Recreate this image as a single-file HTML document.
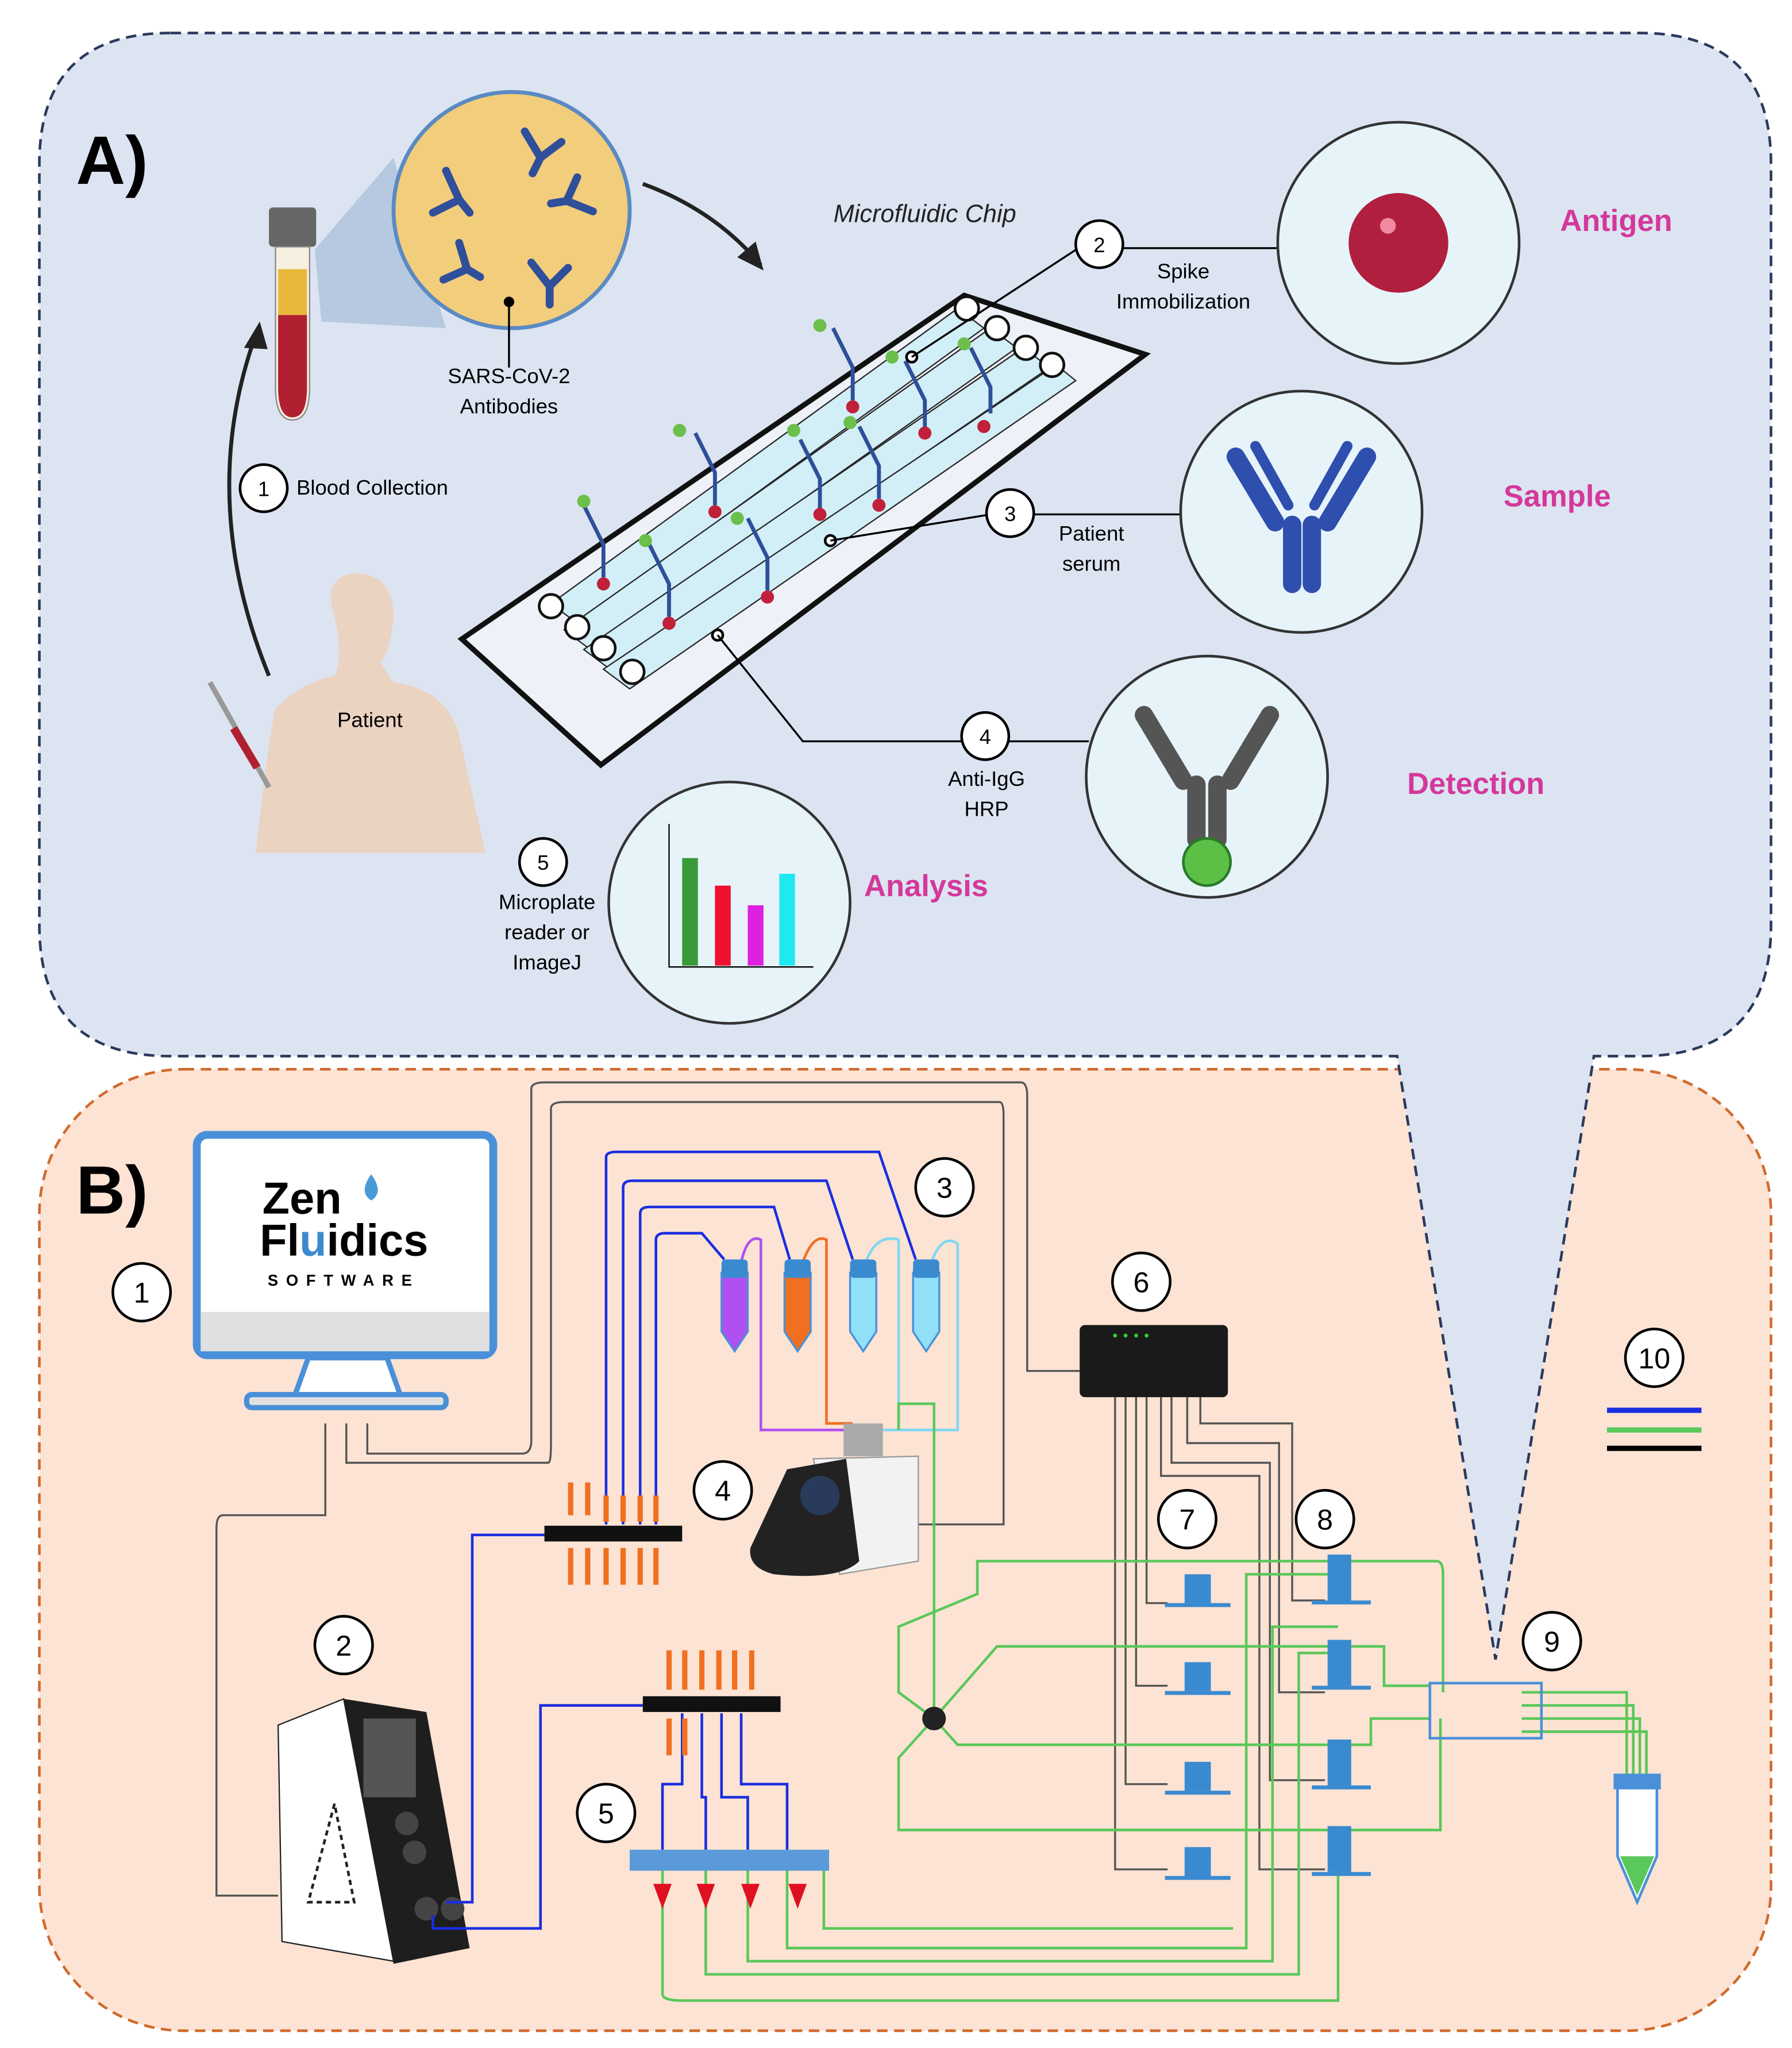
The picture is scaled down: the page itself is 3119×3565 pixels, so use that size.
<!DOCTYPE html>
<html><head><meta charset="utf-8"><style>
html,body{margin:0;padding:0;background:#fff}
svg{display:block}
text{font-family:"Liberation Sans",sans-serif}
</style></head><body>
<svg width="3119" height="3565" viewBox="0 0 1366 1561" xmlns="http://www.w3.org/2000/svg">
<!-- Panel B background -->
<rect x="30" y="815" width="1320" height="733" rx="110" fill="#fde3d4" stroke="#d06a2c" stroke-width="2" stroke-dasharray="8,5"/>
<!-- Panel A with tail -->
<path d="M130,25 H1250 Q1350,25 1350,125 V705 Q1350,805 1250,805 H1215 L1140,1265 L1065,805 H130 Q30,805 30,705 V125 Q30,25 130,25 Z" fill="#dce4f2" stroke="#2b3a5c" stroke-width="2" stroke-dasharray="8,5"/>
<text x="58" y="140" font-size="52" font-weight="bold">A)</text>
<text x="58" y="925" font-size="52" font-weight="bold">B)</text>

<!-- Panel A -->
<!-- blood tube -->
<rect x="205" y="158" width="36" height="30" rx="3" fill="#666"/>
<path d="M210,188 H236 V295 Q236,320 223,320 Q210,320 210,295 Z" fill="#f7f0e0" stroke="#888"/>
<path d="M212,205 H234 V240 H212 Z" fill="#e8b83a"/>
<path d="M212,240 H234 V295 Q234,318 223,318 Q212,318 212,295 Z" fill="#b02030"/>
<polygon points="240,190 300,120 340,250 245,245" fill="#9fb7d4" opacity="0.6"/>
<circle cx="390" cy="160" r="90" fill="#f2cd7c" stroke="#5b8ac2" stroke-width="3"/>
<g stroke="#2f4f9a" stroke-width="6" fill="none" stroke-linecap="round">
<path d="M340,130 l10,22 l-20,10 M350,152 l8,10"/>
<path d="M400,100 l12,20 l16,-12 M412,120 l-6,12"/>
<path d="M440,135 l-8,18 l20,8 M432,153 l-12,2"/>
<path d="M350,185 l6,20 l-18,8 M356,205 l10,6"/>
<path d="M405,200 l14,18 l14,-14 M419,218 l0,14"/>
</g>
<circle cx="388" cy="230" r="4" fill="#000"/>
<line x1="388" y1="230" x2="388" y2="280" stroke="#000" stroke-width="1.5"/>
<text x="388" y="292" font-size="16" text-anchor="middle">SARS-CoV-2</text>
<text x="388" y="315" font-size="16" text-anchor="middle">Antibodies</text>
<path d="M490,140 Q545,160 580,202" stroke="#222" stroke-width="3" fill="none"/>
<polygon points="582,206 562,196 576,184" fill="#222"/>
<path d="M205,515 Q150,380 195,255" stroke="#222" stroke-width="3" fill="none"/>
<polygon points="198,245 186,265 204,266" fill="#222"/>
<circle cx="201" cy="372" r="18" fill="#fff" stroke="#000" stroke-width="2"/><text x="201" y="378" font-size="16" text-anchor="middle">1</text>
<text x="226" y="377" font-size="16">Blood Collection</text>
<!-- patient -->
<path d="M255,470 Q245,440 270,437 Q300,437 300,470 Q298,495 290,505 L300,520 Q340,525 350,560 L370,650 L195,650 Q205,560 210,540 Q230,520 255,515 Q262,500 255,470 Z" fill="#ecd0bc" opacity="0.9"/>
<text x="282" y="554" font-size="16" text-anchor="middle">Patient</text>
<line x1="160" y1="520" x2="205" y2="600" stroke="#999" stroke-width="4"/>
<line x1="178" y1="555" x2="196" y2="585" stroke="#b02030" stroke-width="6"/>
<!-- chip -->
<polygon points="352,487 735,225 873,270 458,583" fill="#eef2f8" stroke="#111" stroke-width="4"/>
<g stroke="#111" stroke-width="1" fill="#cfeef6" opacity="0.9">
<polygon points="420,460 730,235 750,250 440,475"/>
<polygon points="430,480 755,250 775,265 450,495"/>
<polygon points="445,495 780,265 800,280 465,510"/>
<polygon points="460,510 805,278 820,290 480,525"/>
</g>
<g fill="#fff" stroke="#111" stroke-width="2">
<circle cx="420" cy="462" r="9"/><circle cx="440" cy="478" r="9"/><circle cx="460" cy="494" r="9"/><circle cx="482" cy="512" r="9"/>
<circle cx="737" cy="235" r="9"/><circle cx="760" cy="250" r="9"/><circle cx="782" cy="265" r="9"/><circle cx="802" cy="278" r="9"/>
</g>
<g stroke="#2f4f9a" stroke-width="3" fill="none">
<path d="M445,385 l15,30 v25 M530,330 l15,30 v25 M610,335 l15,30 v25 M635,250 l15,30 v25 M495,415 l15,30 v25 M570,395 l15,30 v25 M690,275 l15,30 v25 M740,265 l15,30 v20 M655,325 l15,30 v25"/>
</g>
<g fill="#c0203a"><circle cx="460" cy="445" r="5"/><circle cx="545" cy="390" r="5"/><circle cx="625" cy="392" r="5"/><circle cx="650" cy="310" r="5"/><circle cx="510" cy="475" r="5"/><circle cx="585" cy="455" r="5"/><circle cx="705" cy="330" r="5"/><circle cx="750" cy="325" r="5"/><circle cx="670" cy="385" r="5"/></g>
<g fill="#6cbf4a"><circle cx="445" cy="382" r="5"/><circle cx="518" cy="328" r="5"/><circle cx="625" cy="248" r="5"/><circle cx="492" cy="412" r="5"/><circle cx="605" cy="328" r="5"/><circle cx="648" cy="322" r="5"/><circle cx="680" cy="272" r="5"/><circle cx="735" cy="262" r="5"/><circle cx="562" cy="395" r="5"/></g>
<text x="705" y="169" font-size="19" font-style="italic" text-anchor="middle" fill="#222">Microfluidic Chip</text>
<!-- callouts -->
<circle cx="695" cy="272" r="4" fill="#fff" stroke="#000" stroke-width="2"/>
<polyline points="695,272 822,189 975,189" fill="none" stroke="#000" stroke-width="1.5"/>
<circle cx="838" cy="186" r="18" fill="#fff" stroke="#000" stroke-width="2"/><text x="838" y="192" font-size="16" text-anchor="middle">2</text>
<text x="902" y="212" font-size="16" text-anchor="middle">Spike</text>
<text x="902" y="235" font-size="16" text-anchor="middle">Immobilization</text>
<circle cx="1066" cy="185" r="92" fill="#e6f4fa" stroke="#333" stroke-width="2"/>
<circle cx="1066" cy="185" r="38" fill="#b0203e"/><circle cx="1058" cy="172" r="6" fill="#f08aa0"/>
<text x="1232" y="176" font-size="23" font-weight="bold" fill="#d4389a" text-anchor="middle">Antigen</text>
<circle cx="633" cy="412" r="4" fill="#fff" stroke="#000" stroke-width="2"/>
<polyline points="633,412 755,392 900,392" fill="none" stroke="#000" stroke-width="1.5"/>
<circle cx="770" cy="391" r="18" fill="#fff" stroke="#000" stroke-width="2"/><text x="770" y="397" font-size="16" text-anchor="middle">3</text>
<text x="832" y="412" font-size="16" text-anchor="middle">Patient</text>
<text x="832" y="435" font-size="16" text-anchor="middle">serum</text>
<circle cx="992" cy="390" r="92" fill="#e6f4fa" stroke="#333" stroke-width="2"/>
<g stroke="#2f4fae" stroke-width="14" stroke-linecap="round" fill="none"><path d="M942,348 l30,50 M1042,348 l-30,50 M985,400 v45 M1000,400 v45"/><path d="M957,340 l25,45 M1027,340 l-25,45" stroke-width="8"/></g>
<text x="1187" y="386" font-size="23" font-weight="bold" fill="#d4389a" text-anchor="middle">Sample</text>
<circle cx="547" cy="484" r="4" fill="#fff" stroke="#000" stroke-width="2"/>
<polyline points="547,484 612,565 830,565" fill="none" stroke="#000" stroke-width="1.5"/>
<circle cx="751" cy="561" r="18" fill="#fff" stroke="#000" stroke-width="2"/><text x="751" y="567" font-size="16" text-anchor="middle">4</text>
<text x="752" y="599" font-size="16" text-anchor="middle">Anti-IgG</text>
<text x="752" y="622" font-size="16" text-anchor="middle">HRP</text>
<circle cx="920" cy="592" r="92" fill="#e6f4fa" stroke="#333" stroke-width="2"/>
<g stroke="#555" stroke-width="14" stroke-linecap="round" fill="none"><path d="M872,545 l30,50 M968,545 l-30,50 M912,598 v42 M928,598 v42"/></g>
<circle cx="920" cy="657" r="18" fill="#5cbf46" stroke="#2a7a2a" stroke-width="2"/>
<text x="1125" y="605" font-size="23" font-weight="bold" fill="#d4389a" text-anchor="middle">Detection</text>
<circle cx="414" cy="657" r="18" fill="#fff" stroke="#000" stroke-width="2"/><text x="414" y="663" font-size="16" text-anchor="middle">5</text>
<text x="417" y="693" font-size="16" text-anchor="middle">Microplate</text>
<text x="417" y="716" font-size="16" text-anchor="middle">reader or</text>
<text x="417" y="739" font-size="16" text-anchor="middle">ImageJ</text>
<circle cx="556" cy="688" r="92" fill="#e6f4fa" stroke="#333" stroke-width="2"/>
<polyline points="510,628 510,737 620,737" fill="none" stroke="#000" stroke-width="1"/>
<rect x="520" y="654" width="12" height="82" fill="#3a9a3a"/><rect x="545" y="675" width="12" height="61" fill="#f01030"/><rect x="570" y="690" width="12" height="46" fill="#e020e0"/><rect x="594" y="666" width="12" height="70" fill="#20e8f0"/>
<text x="706" y="683" font-size="23" font-weight="bold" fill="#d4389a" text-anchor="middle">Analysis</text>

<!-- Panel B -->
<!-- monitor -->
<rect x="150" y="865" width="226" height="168" rx="8" fill="#fff" stroke="#4a90d9" stroke-width="6"/>
<rect x="153" y="1000" width="220" height="30" fill="#e0e0e0"/>
<polygon points="235,1035 295,1035 305,1063 225,1063" fill="#fff" stroke="#4a90d9" stroke-width="4"/>
<rect x="188" y="1063" width="152" height="10" rx="4" fill="#e0e0e0" stroke="#4a90d9" stroke-width="4"/>
<text x="200" y="925" font-size="34" font-weight="bold" font-family="Liberation Mono">Zen</text>
<text x="198" y="957" font-size="34" font-weight="bold" font-family="Liberation Mono">Fl<tspan fill="#3a8ad0">u</tspan>idics</text>
<path d="M283,895 q-10,14 0,20 q10,-6 0,-20z" fill="#4a9ad8"/>
<text x="262" y="980" font-size="12" font-weight="bold" text-anchor="middle" letter-spacing="6">SOFTWARE</text>
<circle cx="108" cy="985" r="22" fill="#fff" stroke="#000" stroke-width="2"/><text x="108" y="993" font-size="22" text-anchor="middle">1</text>
<!-- gray cables -->
<g fill="none" stroke="#555" stroke-width="1.5">
<path d="M248,1085 V1155 H170 Q165,1155 165,1165 V1445 H212"/>
<path d="M264,1085 V1115 H418 Q420,1115 420,1100 V845 Q420,840 430,840 H762 Q765,840 765,850 V1162 H700"/>
<path d="M280,1085 V1108 H398 Q405,1108 405,1098 V830 Q405,825 415,825 H778 Q783,825 783,835 V1045 H823"/>
<path d="M850,1065 V1425 H890 M858,1065 V1360 H890 M866,1065 V1285 H890 M874,1065 V1222 H890"/>
<path d="M885,1065 V1125 H960 V1425 H1010 M893,1065 V1115 H968 V1357 H1010 M905,1065 V1100 H975 V1290 H1010 M915,1065 V1085 H985 V1220 H1010"/>
</g>
<!-- pump 2 -->
<circle cx="262" cy="1254" r="22" fill="#fff" stroke="#000" stroke-width="2"/><text x="262" y="1262" font-size="22" text-anchor="middle">2</text>
<polygon points="212,1315 262,1295 300,1495 215,1480" fill="#fff" stroke="#222"/>
<polygon points="262,1295 325,1305 358,1485 300,1497" fill="#1e1e1e"/>
<rect x="277" y="1310" width="40" height="60" fill="#555"/>
<g fill="#444"><circle cx="310" cy="1390" r="9"/><circle cx="316" cy="1412" r="9"/><circle cx="325" cy="1455" r="9"/><circle cx="345" cy="1455" r="9"/></g>
<polygon points="255,1375 235,1450 270,1450" fill="none" stroke="#222" stroke-width="2" stroke-dasharray="4,3"/>
<!-- blue lines -->
<g fill="none" stroke="#1a2ee0" stroke-width="2">
<path d="M340,1450 H360 V1170 H415"/>
<path d="M330,1460 V1470 H412 V1300 H490"/>
<path d="M462,1162 V882 Q462,878 470,878 H670 L698,960"/>
<path d="M475,1162 V905 Q475,900 482,900 H630 L650,960"/>
<path d="M488,1162 V925 Q488,920 495,920 H590 L602,960"/>
<path d="M500,1162 V945 Q500,940 507,940 H535 L552,960"/>
<path d="M520,1306 V1360 H505 V1410 M535,1306 V1370 H538 V1410 M550,1306 V1370 H570 V1410 M565,1306 V1360 H600 V1410"/>
</g>
<path d="M565,962 Q570,940 580,945 V1090 H645" fill="none" stroke="#b050f0" stroke-width="2"/>
<path d="M612,962 Q620,940 630,945 V1085 H650" fill="none" stroke="#f07020" stroke-width="2"/>
<path d="M660,962 Q668,940 685,945 V1090 H670 M710,962 Q718,940 730,948 V1090 H680" fill="none" stroke="#80d8f0" stroke-width="2"/>
<circle cx="720" cy="905" r="22" fill="#fff" stroke="#000" stroke-width="2"/><text x="720" y="913" font-size="22" text-anchor="middle">3</text>
<!-- tubes -->
<g stroke="#4a90d9" stroke-width="1.5">
<path d="M550,970 h20 v45 l-10,15 l-10,-15z" fill="#b050f0"/>
<path d="M598,970 h20 v45 l-10,15 l-10,-15z" fill="#f07020"/>
<path d="M648,970 h20 v45 l-10,15 l-10,-15z" fill="#90e0f8"/>
<path d="M696,970 h20 v45 l-10,15 l-10,-15z" fill="#90e0f8"/>
</g>
<g fill="#3a8ad0"><rect x="550" y="960" width="20" height="14" rx="3"/><rect x="598" y="960" width="20" height="14" rx="3"/><rect x="648" y="960" width="20" height="14" rx="3"/><rect x="696" y="960" width="20" height="14" rx="3"/></g>
<!-- manifolds -->
<rect x="415" y="1163" width="105" height="12" fill="#111"/>
<g stroke="#f07020" stroke-width="4"><path d="M435,1130 v25 M448,1130 v25 M462,1140 v20 M475,1140 v20 M488,1140 v20 M500,1140 v20 M435,1180 v28 M448,1180 v28 M462,1180 v28 M475,1180 v28 M488,1180 v28 M500,1180 v28"/></g>
<rect x="490" y="1293" width="105" height="12" fill="#111"/>
<g stroke="#f07020" stroke-width="4"><path d="M510,1258 v30 M522,1258 v30 M535,1258 v30 M548,1258 v30 M560,1258 v30 M573,1258 v30 M510,1310 v28 M522,1310 v28"/></g>
<!-- device 4 -->
<circle cx="551" cy="1136" r="22" fill="#fff" stroke="#000" stroke-width="2"/><text x="551" y="1144" font-size="22" text-anchor="middle">4</text>
<rect x="643" y="1085" width="30" height="25" fill="#aaa"/>
<path d="M620,1112 L700,1110 V1190 L640,1200 Z" fill="#f2f2f2" stroke="#999"/>
<path d="M600,1120 L645,1112 L655,1190 Q640,1205 590,1200 Q570,1195 572,1180 Z" fill="#222"/>
<circle cx="625" cy="1140" r="15" fill="#2a3a5a"/>
<!-- hub 6 -->
<circle cx="870" cy="977" r="22" fill="#fff" stroke="#000" stroke-width="2"/><text x="870" y="985" font-size="22" text-anchor="middle">6</text>
<rect x="823" y="1010" width="113" height="55" rx="4" fill="#1a1a1a"/>
<g fill="#3c3"><circle cx="850" cy="1018" r="1.5"/><circle cx="858" cy="1018" r="1.5"/><circle cx="866" cy="1018" r="1.5"/><circle cx="874" cy="1018" r="1.5"/></g>
<!-- green lines -->
<g fill="none" stroke="#5ac85a" stroke-width="2">
<path d="M685,1090 V1070 H712 V1310"/>
<path d="M712,1310 L685,1290 V1240 L745,1215 V1190 H1020 H1095 Q1100,1190 1100,1200 V1290"/>
<path d="M712,1310 L760,1255 H1030 H1055 V1285 H1090"/>
<path d="M712,1310 L730,1330 H1030 H1045 V1310 H1090"/>
<path d="M712,1310 L685,1340 V1395 H1030 H1098 V1310"/>
<path d="M505,1420 V1520 Q505,1525 520,1525 H1020 V1395"/>
<path d="M538,1420 V1505 H990 V1260 H1020"/>
<path d="M570,1420 V1495 H970 V1240 H1020"/>
<path d="M600,1420 V1485 H950 V1200 H1020"/>
<path d="M628,1420 V1470 H940"/>
<path d="M1160,1290 H1240 V1355 M1160,1300 H1245 V1355 M1160,1310 H1250 V1355 M1160,1320 H1255 V1355"/>
</g>
<circle cx="712" cy="1310" r="9" fill="#222"/>
<!-- valves 7 / 8 -->
<circle cx="905" cy="1158" r="22" fill="#fff" stroke="#000" stroke-width="2"/><text x="905" y="1166" font-size="22" text-anchor="middle">7</text>
<circle cx="1010" cy="1158" r="22" fill="#fff" stroke="#000" stroke-width="2"/><text x="1010" y="1166" font-size="22" text-anchor="middle">8</text>
<g fill="#3a8ad0">
<rect x="903" y="1200" width="20" height="22"/><rect x="888" y="1222" width="50" height="3"/>
<rect x="903" y="1267" width="20" height="22"/><rect x="888" y="1289" width="50" height="3"/>
<rect x="903" y="1343" width="20" height="22"/><rect x="888" y="1365" width="50" height="3"/>
<rect x="903" y="1408" width="20" height="22"/><rect x="888" y="1430" width="50" height="3"/>
<rect x="1012" y="1185" width="18" height="35"/><rect x="1000" y="1220" width="45" height="3"/>
<rect x="1012" y="1250" width="18" height="35"/><rect x="1000" y="1285" width="45" height="3"/>
<rect x="1012" y="1326" width="18" height="35"/><rect x="1000" y="1361" width="45" height="3"/>
<rect x="1012" y="1392" width="18" height="35"/><rect x="1000" y="1427" width="45" height="3"/>
</g>
<!-- 5 bottles -->
<circle cx="462" cy="1382" r="22" fill="#fff" stroke="#000" stroke-width="2"/><text x="462" y="1390" font-size="22" text-anchor="middle">5</text>
<rect x="480" y="1410" width="152" height="16" fill="#5a9ad8"/>
<g fill="#e01020"><polygon points="498,1436 512,1436 505,1455"/><polygon points="531,1436 545,1436 538,1455"/><polygon points="565,1436 579,1436 572,1455"/><polygon points="601,1436 615,1436 608,1455"/></g>
<!-- 9 -->
<circle cx="1183" cy="1251" r="22" fill="#fff" stroke="#000" stroke-width="2"/><text x="1183" y="1259" font-size="22" text-anchor="middle">9</text>
<rect x="1090" y="1283" width="85" height="42" fill="none" stroke="#4a90d9" stroke-width="2"/>
<path d="M1233,1355 h30 v60 l-15,35 l-15,-35z" fill="#fff" stroke="#4a90d9" stroke-width="2"/>
<path d="M1235,1415 h26 l-13,30z" fill="#5ac85a"/>
<rect x="1230" y="1352" width="36" height="12" fill="#4a90d9"/>
<!-- 10 -->
<circle cx="1261" cy="1035" r="22" fill="#fff" stroke="#000" stroke-width="2"/><text x="1261" y="1043" font-size="22" text-anchor="middle">10</text>
<rect x="1225" y="1073" width="72" height="4" fill="#1a2ee0"/>
<rect x="1225" y="1088" width="72" height="4" fill="#5ac85a"/>
<rect x="1225" y="1102" width="72" height="4" fill="#000"/>
</svg>
</body></html>
